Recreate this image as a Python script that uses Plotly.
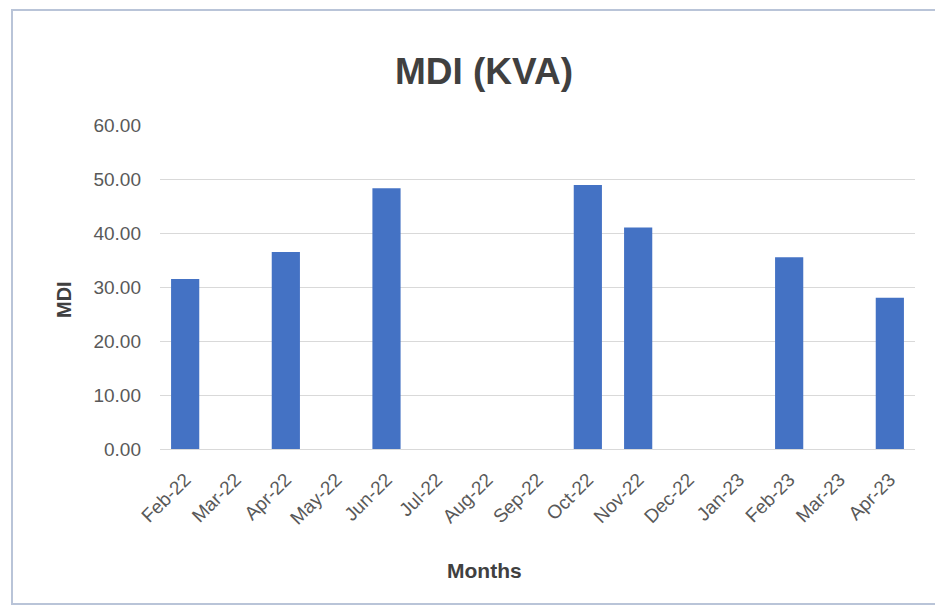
import plotly.graph_objects as go

months = [
    "Feb-22", "Mar-22", "Apr-22", "May-22", "Jun-22", "Jul-22", "Aug-22", "Sep-22",
    "Oct-22", "Nov-22", "Dec-22", "Jan-23", "Feb-23", "Mar-23", "Apr-23",
]
mdi_kva = [31.5, None, 36.5, None, 48.3, None, None, None, 48.9, 41.0, None, None, 35.5, None, 28.0]
y_ticks = [0, 10, 20, 30, 40, 50, 60]

BAR_BLUE = "#4472C4"
TEXT_GREY = "#595959"
TITLE_GREY = "#404040"
FONT = "Liberation Sans"

fig = go.Figure(
    go.Bar(x=months, y=mdi_kva, marker=dict(color=BAR_BLUE, line=dict(width=0)))
)

# the page body adds an 8px offset, so positions are given in screen pixels
# and shifted back by that amount
OFF = 8
W, H = 943, 610
L, R, T, B = 160 - OFF, 28 + OFF, 125 - OFF, 161 + OFF
pw, ph = W - L - R, H - T - B


def px_x(x):
    return (x - OFF - L) / pw


def px_y(y):
    return (H - B - (y - OFF)) / ph


fig.update_layout(
    width=W,
    height=H,
    margin=dict(l=L, r=R, t=T, b=B),
    paper_bgcolor="white",
    plot_bgcolor="white",
    bargap=0.44,
    showlegend=False,
    font=dict(family=FONT, color=TEXT_GREY, size=13),
    title=dict(
        text="<b>MDI (KVA)</b>",
        x=(484 - OFF) / W,
        xanchor="center",
        y=1 - (71 - OFF) / H,
        yanchor="middle",
        font=dict(family=FONT, size=37, color=TITLE_GREY),
    ),
    annotations=[
        dict(
            text="<b>Months</b>", xref="paper", yref="paper",
            x=px_x(484), y=px_y(570), xanchor="center", yanchor="middle",
            showarrow=False, font=dict(size=21, color=TITLE_GREY),
        ),
        dict(
            text="<b>MDI</b>", xref="paper", yref="paper",
            x=px_x(64), y=px_y(300), xanchor="center", yanchor="middle",
            textangle=-90, showarrow=False, font=dict(size=20, color=TITLE_GREY),
        ),
    ],
    shapes=[
        dict(
            type="rect", xref="paper", yref="paper",
            x0=px_x(12), x1=px_x(938), y0=px_y(604), y1=px_y(10),
            line=dict(color="#b9c4d8", width=2), fillcolor="rgba(0,0,0,0)",
            layer="below",
        )
    ],
)

fig.update_xaxes(
    type="category",
    tickangle=-45,
    tickfont=dict(size=19, color=TEXT_GREY),
    showgrid=False,
    showline=True,
    linecolor="#d9d9d9",
    ticks="",
    ticklabelstandoff=11,
)

fig.update_yaxes(
    range=[0, 60],
    tickvals=y_ticks,
    tickformat=".2f",
    tickfont=dict(size=19, color=TEXT_GREY),
    showgrid=True,
    gridcolor="#d9d9d9",
    zeroline=False,
    showline=False,
    ticks="",
    ticklabelstandoff=18,
)

fig.write_html("out.html")
